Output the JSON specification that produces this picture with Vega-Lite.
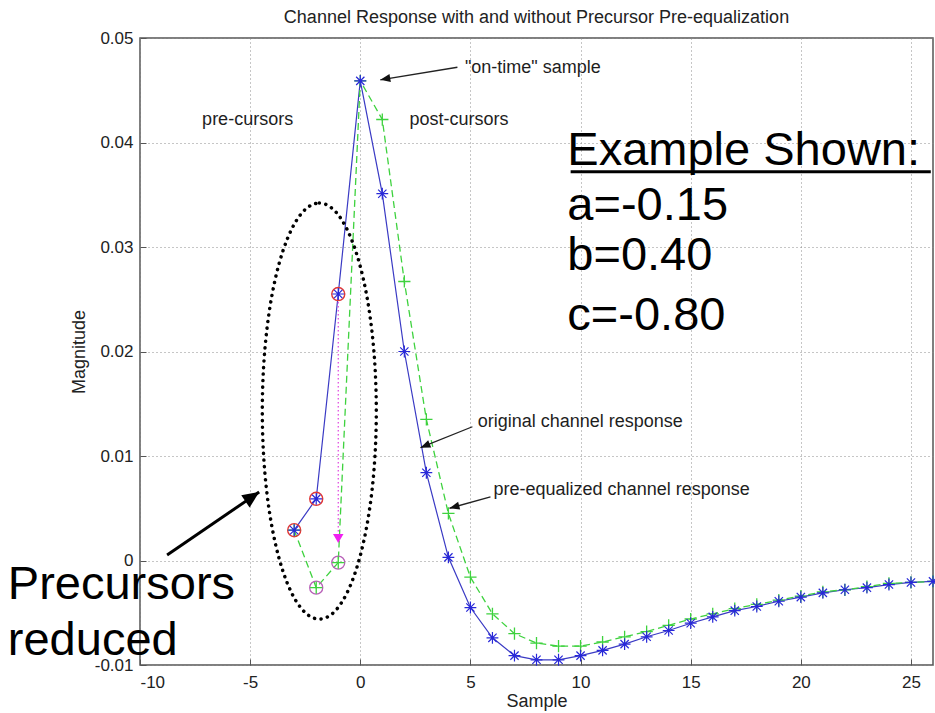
{
  "$schema": "https://vega.github.io/schema/vega-lite/v6.json",
  "width": 793,
  "height": 627,
  "autosize": {"type": "none"},
  "padding": {"left": 140, "top": 38, "right": 2, "bottom": 48},
  "background": "white",
  "title": {
    "text": "Channel Response with and without Precursor Pre-equalization",
    "font": "Liberation Sans",
    "fontSize": 18,
    "fontWeight": "normal",
    "color": "#222222",
    "anchor": "middle",
    "offset": 2
  },
  "config": {
    "font": "Liberation Sans",
    "view": {"stroke": "#555555", "strokeWidth": 1.5},
    "axis": {
      "labelFont": "Liberation Sans",
      "labelFontSize": 17,
      "labelColor": "#222222",
      "titleFont": "Liberation Sans",
      "titleFontSize": 18,
      "titleFontWeight": "normal",
      "titleColor": "#222222",
      "domain": false,
      "grid": true,
      "gridDash": [1, 3],
      "gridColor": "#8c8c8c",
      "gridOpacity": 1,
      "tickColor": "#555555",
      "tickSize": -6
    }
  },
  "datasets": {
    "response": [
      {"series": "original", "sample": -3, "magnitude": 0.0029},
      {"series": "original", "sample": -2, "magnitude": 0.0059},
      {"series": "original", "sample": -1, "magnitude": 0.0255},
      {"series": "original", "sample": 0, "magnitude": 0.0459},
      {"series": "original", "sample": 1, "magnitude": 0.0351},
      {"series": "original", "sample": 2, "magnitude": 0.0200},
      {"series": "original", "sample": 3, "magnitude": 0.0084},
      {"series": "original", "sample": 4, "magnitude": 0.0003},
      {"series": "original", "sample": 5, "magnitude": -0.0045},
      {"series": "original", "sample": 6, "magnitude": -0.0074},
      {"series": "original", "sample": 7, "magnitude": -0.0091},
      {"series": "original", "sample": 8, "magnitude": -0.0095},
      {"series": "original", "sample": 9, "magnitude": -0.0095},
      {"series": "original", "sample": 10, "magnitude": -0.0091},
      {"series": "original", "sample": 11, "magnitude": -0.0086},
      {"series": "original", "sample": 12, "magnitude": -0.0080},
      {"series": "original", "sample": 13, "magnitude": -0.0073},
      {"series": "original", "sample": 14, "magnitude": -0.0067},
      {"series": "original", "sample": 15, "magnitude": -0.0060},
      {"series": "original", "sample": 16, "magnitude": -0.0054},
      {"series": "original", "sample": 17, "magnitude": -0.0048},
      {"series": "original", "sample": 18, "magnitude": -0.0044},
      {"series": "original", "sample": 19, "magnitude": -0.0039},
      {"series": "original", "sample": 20, "magnitude": -0.0035},
      {"series": "original", "sample": 21, "magnitude": -0.0031},
      {"series": "original", "sample": 22, "magnitude": -0.0028},
      {"series": "original", "sample": 23, "magnitude": -0.0026},
      {"series": "original", "sample": 24, "magnitude": -0.0023},
      {"series": "original", "sample": 25, "magnitude": -0.0021},
      {"series": "original", "sample": 26, "magnitude": -0.0020},
      {"series": "pre-equalized", "sample": -3, "magnitude": 0.0029},
      {"series": "pre-equalized", "sample": -2, "magnitude": -0.0026},
      {"series": "pre-equalized", "sample": -1, "magnitude": -0.0002},
      {"series": "pre-equalized", "sample": 0, "magnitude": 0.0459},
      {"series": "pre-equalized", "sample": 1, "magnitude": 0.0422},
      {"series": "pre-equalized", "sample": 2, "magnitude": 0.0267},
      {"series": "pre-equalized", "sample": 3, "magnitude": 0.0135},
      {"series": "pre-equalized", "sample": 4, "magnitude": 0.0045},
      {"series": "pre-equalized", "sample": 5, "magnitude": -0.0016},
      {"series": "pre-equalized", "sample": 6, "magnitude": -0.0051},
      {"series": "pre-equalized", "sample": 7, "magnitude": -0.0070},
      {"series": "pre-equalized", "sample": 8, "magnitude": -0.0079},
      {"series": "pre-equalized", "sample": 9, "magnitude": -0.0082},
      {"series": "pre-equalized", "sample": 10, "magnitude": -0.0082},
      {"series": "pre-equalized", "sample": 11, "magnitude": -0.0078},
      {"series": "pre-equalized", "sample": 12, "magnitude": -0.0073},
      {"series": "pre-equalized", "sample": 13, "magnitude": -0.0068},
      {"series": "pre-equalized", "sample": 14, "magnitude": -0.0062},
      {"series": "pre-equalized", "sample": 15, "magnitude": -0.0056},
      {"series": "pre-equalized", "sample": 16, "magnitude": -0.0051},
      {"series": "pre-equalized", "sample": 17, "magnitude": -0.0046},
      {"series": "pre-equalized", "sample": 18, "magnitude": -0.0042},
      {"series": "pre-equalized", "sample": 19, "magnitude": -0.0038},
      {"series": "pre-equalized", "sample": 20, "magnitude": -0.0034},
      {"series": "pre-equalized", "sample": 21, "magnitude": -0.0030},
      {"series": "pre-equalized", "sample": 22, "magnitude": -0.0028},
      {"series": "pre-equalized", "sample": 23, "magnitude": -0.0025},
      {"series": "pre-equalized", "sample": 24, "magnitude": -0.0022},
      {"series": "pre-equalized", "sample": 25, "magnitude": -0.0021},
      {"series": "pre-equalized", "sample": 26, "magnitude": -0.0020}
    ],
    "shift": [
      {"sample": -1, "magnitude": 0.0255, "magnitude_end": 0.0021}
    ],
    "region": [
      {"sample": -1.86, "magnitude": 0.0143}
    ],
    "arrows": [
      {"name": "on-time", "sample": 4.41, "magnitude": 0.0472, "sample_end": 0.91, "magnitude_end": 0.0460},
      {"name": "original", "sample": 5.09, "magnitude": 0.0128, "sample_end": 2.73, "magnitude_end": 0.0108},
      {"name": "pre-equalized", "sample": 5.91, "magnitude": 0.0061, "sample_end": 4.05, "magnitude_end": 0.0050},
      {"name": "precursors", "sample": -8.77, "magnitude": 0.00053, "sample_end": -4.59, "magnitude_end": 0.00655}
    ],
    "notes": [
      {"label": "pre-cursors", "sample": -7.18, "magnitude": 0.04167},
      {"label": "post-cursors", "sample": 2.23, "magnitude": 0.04167},
      {"label": "\"on-time\" sample", "sample": 4.75, "magnitude": 0.04665},
      {"label": "original channel response", "sample": 5.33, "magnitude": 0.0128},
      {"label": "pre-equalized channel response", "sample": 6.05, "magnitude": 0.00627}
    ],
    "callout": [
      {"label": "Example Shown:", "sample": 9.4, "magnitude": 0.03785},
      {"label": "a=-0.15", "sample": 9.4, "magnitude": 0.03258},
      {"label": "b=0.40", "sample": 9.4, "magnitude": 0.0278},
      {"label": "c=-0.80", "sample": 9.4, "magnitude": 0.02205},
      {"label": "Precursors", "sample": -16.0, "magnitude": -0.00365},
      {"label": "reduced", "sample": -16.0, "magnitude": -0.00904}
    ],
    "underline": [
      {"sample": 9.55, "magnitude": 0.0372, "sample_end": 25.9}
    ]
  },
  "layer": [
    {
      "data": {"name": "response"},
      "transform": [{"filter": "datum.series === 'original'"}],
      "mark": {"type": "line", "color": "#3a3ac4", "strokeWidth": 1.2},
      "encoding": {
        "x": {
          "field": "sample",
          "type": "quantitative",
          "scale": {"domain": [-10, 26], "nice": false, "zero": false},
          "axis": {
            "title": "Sample",
            "values": [-10, -5, 0, 5, 10, 15, 20, 25],
            "labelExpr": "(datum.value < 0 ? '-' : '') + abs(datum.value)",
            "labelPadding": 15,
            "titlePadding": 2
          }
        },
        "y": {
          "field": "magnitude",
          "type": "quantitative",
          "scale": {"domain": [-0.01, 0.05], "nice": false, "zero": false},
          "axis": {
            "title": "Magnitude",
            "values": [-0.01, 0, 0.01, 0.02, 0.03, 0.04, 0.05],
            "labelExpr": "datum.value == 0 ? '0' : (datum.value < 0 ? '-' : '') + format(abs(datum.value), '.2f')",
            "labelPadding": 13,
            "titlePadding": 6
          }
        }
      }
    },
    {
      "data": {"name": "response"},
      "transform": [{"filter": "datum.series === 'pre-equalized'"}],
      "mark": {"type": "line", "color": "#3ed23e", "strokeWidth": 1.3, "strokeDash": [7, 4]},
      "encoding": {
        "x": {"field": "sample", "type": "quantitative"},
        "y": {"field": "magnitude", "type": "quantitative"}
      }
    },
    {
      "data": {"name": "shift"},
      "mark": {"type": "rule", "color": "#e040e0", "strokeWidth": 1.2, "strokeDash": [1.5, 2.5]},
      "encoding": {
        "x": {"field": "sample", "type": "quantitative"},
        "y": {"field": "magnitude", "type": "quantitative"},
        "y2": {"field": "magnitude_end"}
      }
    },
    {
      "data": {"name": "shift"},
      "mark": {"type": "point", "shape": "triangle-down", "filled": true, "color": "#f020f0", "size": 110, "opacity": 1},
      "encoding": {
        "x": {"field": "sample", "type": "quantitative"},
        "y": {"field": "magnitude_end", "type": "quantitative"}
      }
    },
    {
      "data": {"name": "response"},
      "transform": [{"filter": "datum.series === 'original' && datum.sample < 0"}],
      "mark": {"type": "point", "shape": "circle", "filled": false, "color": "#e03838", "size": 170, "strokeWidth": 1.4, "opacity": 1},
      "encoding": {
        "x": {"field": "sample", "type": "quantitative"},
        "y": {"field": "magnitude", "type": "quantitative"}
      }
    },
    {
      "data": {"name": "response"},
      "transform": [{"filter": "datum.series === 'pre-equalized' && datum.sample < 0 && datum.sample > -3"}],
      "mark": {"type": "point", "shape": "circle", "filled": false, "color": "#b860b8", "size": 170, "strokeWidth": 1.3, "opacity": 1},
      "encoding": {
        "x": {"field": "sample", "type": "quantitative"},
        "y": {"field": "magnitude", "type": "quantitative"}
      }
    },
    {
      "data": {"name": "response"},
      "transform": [{"filter": "datum.series === 'pre-equalized'"}],
      "mark": {"type": "point", "shape": "M-1,0H1M0,-1V1", "filled": false, "color": "#3ed23e", "size": 150, "strokeWidth": 1.3, "opacity": 1},
      "encoding": {
        "x": {"field": "sample", "type": "quantitative"},
        "y": {"field": "magnitude", "type": "quantitative"}
      }
    },
    {
      "data": {"name": "response"},
      "transform": [{"filter": "datum.series === 'original'"}],
      "mark": {"type": "point", "shape": "M0,-1V1M-1,0H1M-0.7,-0.7L0.7,0.7M-0.7,0.7L0.7,-0.7", "filled": false, "color": "#2828d8", "size": 140, "strokeWidth": 1.2, "opacity": 1},
      "encoding": {
        "x": {"field": "sample", "type": "quantitative"},
        "y": {"field": "magnitude", "type": "quantitative"}
      }
    },
    {
      "data": {"name": "region"},
      "mark": {
        "type": "point",
        "shape": "M0,-1C0.1513,-1,0.274,-0.5523,0.274,0C0.274,0.5523,0.1513,1,0,1C-0.1513,1,-0.274,0.5523,-0.274,0C-0.274,-0.5523,-0.1513,-1,0,-1Z",
        "filled": false,
        "color": "#000000",
        "size": 173056,
        "strokeWidth": 3.5,
        "strokeDash": [0.1, 6.5],
        "strokeCap": "round",
        "opacity": 1
      },
      "encoding": {
        "x": {"field": "sample", "type": "quantitative"},
        "y": {"field": "magnitude", "type": "quantitative"}
      }
    },
    {
      "data": {"name": "arrows"},
      "transform": [{"filter": "datum.name !== 'precursors'"}],
      "mark": {"type": "rule", "color": "#222222", "strokeWidth": 1.3},
      "encoding": {
        "x": {"field": "sample", "type": "quantitative"},
        "y": {"field": "magnitude", "type": "quantitative"},
        "x2": {"field": "sample_end"},
        "y2": {"field": "magnitude_end"}
      }
    },
    {
      "data": {"name": "arrows"},
      "transform": [{"filter": "datum.name === 'precursors'"}],
      "mark": {"type": "rule", "color": "#000000", "strokeWidth": 3},
      "encoding": {
        "x": {"field": "sample", "type": "quantitative"},
        "y": {"field": "magnitude", "type": "quantitative"},
        "x2": {"field": "sample_end"},
        "y2": {"field": "magnitude_end"}
      }
    },
    {
      "data": {"name": "arrows"},
      "transform": [{"filter": "datum.name === 'on-time'"}],
      "mark": {"type": "point", "shape": "M0,0L-0.4,1L0.4,1Z", "filled": true, "color": "#111111", "size": 400, "angle": 260, "opacity": 1},
      "encoding": {
        "x": {"field": "sample_end", "type": "quantitative"},
        "y": {"field": "magnitude_end", "type": "quantitative"}
      }
    },
    {
      "data": {"name": "arrows"},
      "transform": [{"filter": "datum.name === 'original'"}],
      "mark": {"type": "point", "shape": "M0,0L-0.4,1L0.4,1Z", "filled": true, "color": "#111111", "size": 400, "angle": 248, "opacity": 1},
      "encoding": {
        "x": {"field": "sample_end", "type": "quantitative"},
        "y": {"field": "magnitude_end", "type": "quantitative"}
      }
    },
    {
      "data": {"name": "arrows"},
      "transform": [{"filter": "datum.name === 'pre-equalized'"}],
      "mark": {"type": "point", "shape": "M0,0L-0.4,1L0.4,1Z", "filled": true, "color": "#111111", "size": 400, "angle": 255, "opacity": 1},
      "encoding": {
        "x": {"field": "sample_end", "type": "quantitative"},
        "y": {"field": "magnitude_end", "type": "quantitative"}
      }
    },
    {
      "data": {"name": "arrows"},
      "transform": [{"filter": "datum.name === 'precursors'"}],
      "mark": {"type": "point", "shape": "M0,0L-0.45,1L0.45,1Z", "filled": true, "color": "#000000", "size": 1100, "angle": 56, "opacity": 1},
      "encoding": {
        "x": {"field": "sample_end", "type": "quantitative"},
        "y": {"field": "magnitude_end", "type": "quantitative"}
      }
    },
    {
      "data": {"name": "notes"},
      "mark": {"type": "text", "align": "left", "baseline": "alphabetic", "font": "Liberation Sans", "fontSize": 18, "color": "#1e1e1e"},
      "encoding": {
        "x": {"field": "sample", "type": "quantitative"},
        "y": {"field": "magnitude", "type": "quantitative"},
        "text": {"field": "label"}
      }
    },
    {
      "data": {"name": "callout"},
      "mark": {"type": "text", "align": "left", "baseline": "alphabetic", "font": "Liberation Sans", "fontSize": 47, "color": "#000000"},
      "encoding": {
        "x": {"field": "sample", "type": "quantitative"},
        "y": {"field": "magnitude", "type": "quantitative"},
        "text": {"field": "label"}
      }
    },
    {
      "data": {"name": "underline"},
      "mark": {"type": "rule", "color": "#000000", "strokeWidth": 3},
      "encoding": {
        "x": {"field": "sample", "type": "quantitative"},
        "x2": {"field": "sample_end"},
        "y": {"field": "magnitude", "type": "quantitative"}
      }
    }
  ]
}
